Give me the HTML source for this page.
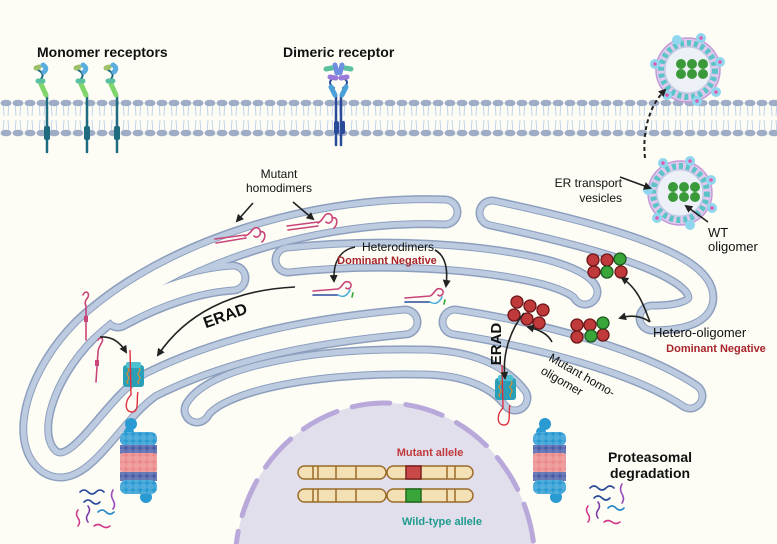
<!DOCTYPE html>
<html><head><meta charset="utf-8"><style>
html,body{margin:0;padding:0;background:#fdfdf6;width:777px;height:544px;overflow:hidden;}
svg{display:block;font-family:"Liberation Sans",sans-serif;overflow:hidden;}
</style></head><body>
<svg width="777" height="544" viewBox="0 0 777 544" xmlns="http://www.w3.org/2000/svg">
<defs>
<pattern id="mem" x="0" y="98" width="12" height="40" patternUnits="userSpaceOnUse">
<path d="M3,5 L4,18 M9,5 L8,18 M3,35 L4,22 M9,35 L8,22" stroke="#c3d3ec" stroke-width="1" fill="none"/>
<ellipse cx="6" cy="5" rx="5.5" ry="3.3" fill="#9eacc6"/>
<ellipse cx="6" cy="35" rx="5.5" ry="3.3" fill="#9eacc6"/>
</pattern>
<pattern id="dots" x="0" y="0" width="7" height="7" patternUnits="userSpaceOnUse">
<circle cx="3.5" cy="3.5" r="3.3" fill="#fff" fill-opacity="0.18"/>
</pattern>
<marker id="ah" markerWidth="8" markerHeight="8" refX="6" refY="4" orient="auto" markerUnits="userSpaceOnUse">
<path d="M0,0 L8,4 L0,8 Z" fill="#222"/>
</marker>
<clipPath id="clip"><rect x="0" y="0" width="777" height="544"/></clipPath>
</defs>
<g clip-path="url(#clip)">

<rect x="0" y="98" width="777" height="40" fill="url(#mem)"/>

<g fill="none" stroke-linecap="round" stroke-linejoin="round">
<g stroke="#8d9fbd" stroke-width="33">
<path id="cA" d="M445,212 C320,207 170,250 85,330 C40,375 20,440 50,462 C80,480 110,412 150,385 C230,345 320,330 405,322"/>
<path id="cC" d="M118,315 C160,292 200,280 233,278"/>
<path id="cB" d="M288,260 C380,250 480,256 545,272 C570,279 582,286 585,292"/>
<path id="cE" d="M492,213 C600,236 690,262 700,292 C706,312 680,318 652,318"/>
<path id="cF" d="M455,322 C540,335 640,362 690,396"/>
<path id="cG" d="M197,410 C215,380 310,360 420,362 C470,362 500,378 515,398"/>
</g>
<g stroke="#bccbe0" stroke-width="30">
<use href="#cA"/><use href="#cC"/><use href="#cB"/><use href="#cE"/><use href="#cF"/><use href="#cG"/>
</g>
<g stroke="#8d9fbd" stroke-width="19">
<use href="#cA"/><use href="#cC"/><use href="#cB"/><use href="#cE"/><use href="#cF"/><use href="#cG"/>
</g>
<g stroke="#fdfdf6" stroke-width="17">
<use href="#cA"/><use href="#cC"/><use href="#cB"/><use href="#cE"/><use href="#cF"/><use href="#cG"/>
</g>
</g>

<ellipse cx="385" cy="565" rx="150" ry="162" fill="#e2dfed"/>
<ellipse cx="385" cy="565" rx="150" ry="162" fill="none" stroke="#b9a8da" stroke-width="5" stroke-linecap="round" stroke-dasharray="38 16"/>

<g stroke="#9a6a2a" stroke-width="1.5" fill="#f3e0b5">
<rect x="298" y="466" width="88" height="13" rx="6.5"/>
<rect x="387" y="466" width="86" height="13" rx="6.5"/>
<rect x="298" y="489" width="88" height="13" rx="6.5"/>
<rect x="387" y="489" width="86" height="13" rx="6.5"/>
<path d="M313,466 V479 M318,466 V479 M336,466 V479 M356,466 V479 M447,466 V479 M455,466 V479 M313,489 V502 M318,489 V502 M336,489 V502 M356,489 V502 M447,489 V502 M455,489 V502" fill="none"/>
</g>
<rect x="406" y="466" width="15" height="13" fill="#c94848" stroke="#7a2020" stroke-width="1.5"/>
<rect x="406" y="489" width="15" height="13" fill="#3aa63a" stroke="#1f6a1f" stroke-width="1.5"/>
<text x="430" y="456" font-size="11" font-weight="bold" fill="#c0393b" text-anchor="middle">Mutant allele</text>
<text x="442" y="525" font-size="11" font-weight="bold" fill="#1f9a8e" text-anchor="middle">Wild-type allele</text>

<!-- receptors -->
<g fill="none" stroke-linecap="round">
<g stroke="#1f6b80" stroke-width="2.5">
<path d="M47,96 V152 M87,96 V152 M117,96 V152"/>
<path d="M38,70 Q46,74 40,80" stroke-width="2"/><path d="M78,70 Q86,74 80,80" stroke-width="2"/><path d="M108,70 Q116,74 110,80" stroke-width="2"/>
</g>
<g fill="#1f6b80"><rect x="44" y="126" width="6" height="14" rx="2"/><rect x="84" y="126" width="6" height="14" rx="2"/><rect x="114" y="126" width="6" height="14" rx="2"/></g>
<g stroke-width="5">
<path d="M41,84 L46,95" stroke="#7fd46a"/><path d="M81,84 L86,95" stroke="#7fd46a"/><path d="M111,84 L116,95" stroke="#7fd46a"/>
<path d="M38,81 L43,81" stroke="#58c0a0"/><path d="M78,81 L83,81" stroke="#58c0a0"/><path d="M108,81 L113,81" stroke="#58c0a0"/>
<path d="M36,68 L39,67" stroke="#9fc068"/><path d="M76,68 L79,67" stroke="#9fc068"/><path d="M106,68 L109,67" stroke="#9fc068"/>
<path d="M43,65 Q48,68 44,72" stroke="#5aaee0"/><path d="M83,65 Q88,68 84,72" stroke="#5aaee0"/><path d="M113,65 Q118,68 114,72" stroke="#5aaee0"/>
</g>
<g stroke="#2a4a9a" stroke-width="2.5"><path d="M336,95 V145 M341,95 V145"/>
<path d="M334,78 Q326,82 334,88 M343,78 Q351,82 343,88" stroke-width="2"/></g>
<g fill="#2a4a9a"><rect x="334" y="121" width="5" height="13" rx="2"/><rect x="340" y="121" width="5" height="13" rx="2"/></g>
<g stroke-width="5">
<path d="M331,87 L335,95" stroke="#4aa0d8"/><path d="M346,87 L342,95" stroke="#4aa0d8"/>
<path d="M330,77 L336,78" stroke="#9a7ad8"/><path d="M347,77 L341,78" stroke="#9a7ad8"/>
<path d="M326,69 L332,68" stroke="#5ac0a0"/><path d="M351,69 L345,68" stroke="#5ac0a0"/>
<path d="M335,65 L337,73 M342,65 L340,73" stroke="#6f8fe0"/>
</g>
</g>

<!-- vesicles -->
<g>
<circle cx="688" cy="70" r="32" fill="#e0c8ec" stroke="#c49ad8" stroke-width="1.5"/>
<circle cx="688" cy="70" r="27" fill="none" stroke="#5cc4c8" stroke-width="6" stroke-dasharray="4 3"/>
<circle cx="688" cy="70" r="23" fill="#edf1f7" stroke="#b8c8e0"/>
<g fill="#8fd6ee"><circle cx="655" cy="64" r="5"/><circle cx="701" cy="38" r="5"/><circle cx="720" cy="62" r="5"/><circle cx="716" cy="92" r="5"/><circle cx="697" cy="101" r="5"/><circle cx="667" cy="95" r="5"/><circle cx="677" cy="40" r="5"/></g>
<g fill="#e05ab0"><circle cx="655" cy="64" r="1.8"/><circle cx="701" cy="38" r="1.8"/><circle cx="720" cy="62" r="1.8"/><circle cx="716" cy="92" r="1.8"/><circle cx="697" cy="101" r="1.8"/><circle cx="667" cy="95" r="1.8"/></g>
<g fill="#3a9a3a"><circle cx="681" cy="64" r="5"/><circle cx="692" cy="64" r="5"/><circle cx="703" cy="64" r="5"/><circle cx="681" cy="74" r="5"/><circle cx="692" cy="74" r="5"/><circle cx="703" cy="74" r="5"/></g>

<circle cx="680" cy="193" r="32" fill="#e0c8ec" stroke="#c49ad8" stroke-width="1.5"/>
<circle cx="680" cy="193" r="27" fill="none" stroke="#5cc4c8" stroke-width="6" stroke-dasharray="4 3"/>
<circle cx="680" cy="193" r="23" fill="#edf1f7" stroke="#b8c8e0"/>
<g fill="#8fd6ee"><circle cx="648" cy="190" r="5"/><circle cx="663" cy="163" r="5"/><circle cx="690" cy="161" r="5"/><circle cx="711" cy="180" r="5"/><circle cx="712" cy="208" r="5"/><circle cx="690" cy="225" r="5"/><circle cx="657" cy="218" r="5"/></g>
<g fill="#e05ab0"><circle cx="663" cy="163" r="1.8"/><circle cx="690" cy="161" r="1.8"/><circle cx="711" cy="180" r="1.8"/><circle cx="712" cy="208" r="1.8"/><circle cx="657" cy="218" r="1.8"/></g>
<g fill="#3a9a3a"><circle cx="673" cy="187" r="5"/><circle cx="684" cy="187" r="5"/><circle cx="695" cy="187" r="5"/><circle cx="673" cy="197" r="5"/><circle cx="684" cy="197" r="5"/><circle cx="695" cy="197" r="5"/></g>
</g>
<path d="M645,158 C642,130 650,105 665,90" fill="none" stroke="#222" stroke-width="2" stroke-dasharray="4 3" marker-end="url(#ah)"/>

<!-- oligomers -->
<g stroke-width="1.3">
<g fill="#c0393b" stroke="#6e1618">
<circle cx="593" cy="260" r="6"/><circle cx="607" cy="260" r="6"/><circle cx="594" cy="272" r="6"/><circle cx="621" cy="272" r="6"/>
<circle cx="577" cy="325" r="6"/><circle cx="590" cy="325" r="6"/><circle cx="577" cy="337" r="6"/><circle cx="603" cy="335" r="6"/>
<circle cx="517" cy="302" r="6"/><circle cx="530" cy="306" r="6"/><circle cx="543" cy="310" r="6"/><circle cx="514" cy="315" r="6"/><circle cx="527" cy="319" r="6"/><circle cx="539" cy="323" r="6"/>
</g>
<g fill="#3aa63a" stroke="#1f5a1f">
<circle cx="620" cy="259" r="6"/><circle cx="607" cy="272" r="6"/>
<circle cx="603" cy="323" r="6"/><circle cx="591" cy="336" r="6"/>
</g>
</g>

<g fill="none" stroke-width="1.6" stroke-linecap="round">
<g stroke="#c9457a">
<path d="M215,239 L245,235 M216,243 L246,238 M245,236 C252,234 252,226 258,228 C264,232 258,240 254,236 M260,232 C266,230 266,238 262,242"/>
<path d="M287,226 L318,222 M288,230 L318,226 M318,223 C324,220 324,212 330,214 C336,218 330,226 326,222 M332,218 C338,216 338,224 334,228"/>
<path d="M313,291 L338,289 C343,287 343,280 349,282 C354,285 349,291 346,288"/>
<path d="M405,298 L430,296 C435,294 435,287 441,289 C446,292 441,298 438,295"/>
</g>
<g stroke="#2a4a9a"><path d="M313,295 L338,295 M405,302 L430,302"/></g>
<g stroke="#4ab0d8"><path d="M338,295 C343,298 347,296 350,290 M430,302 C435,305 439,303 442,297"/></g>
<g stroke="#3aa63a"><path d="M353,293 L352,297 M445,300 L444,304"/></g>
<g stroke="#c9457a"><path d="M83,295 C85,290 90,292 88,297 C86,300 84,302 86,306 L86,340"/><path d="M98,340 C100,336 104,338 102,342 C100,346 98,348 98,352 L96,382"/></g>
</g>
<rect x="84" y="316" width="4" height="6" fill="#c9457a"/>
<rect x="95" y="360" width="4" height="6" fill="#c9457a"/>

<g>
<rect x="123" y="365" width="21" height="22" rx="3" fill="#2aa0b8"/>
<rect x="126" y="362" width="15" height="6" rx="2" fill="#4fc0d0"/>
<path d="M130,350 L131,395 C125,400 124,412 132,412 C140,412 136,398 138,392" fill="none" stroke="#e03040" stroke-width="1.4"/>
<path d="M128,368 q2,2 0,4 q-2,2 0,4 q2,2 0,4 q-2,2 0,4 M139,368 q2,2 0,4 q-2,2 0,4 q2,2 0,4 q-2,2 0,4" fill="none" stroke="#f08a20" stroke-width="1"/>
<rect x="495" y="378" width="21" height="22" rx="3" fill="#2aa0b8"/>
<rect x="498" y="375" width="15" height="6" rx="2" fill="#4fc0d0"/>
<path d="M502,365 L503,408 C497,413 496,425 504,425 C512,425 508,411 510,405" fill="none" stroke="#e03040" stroke-width="1.4"/>
<path d="M500,381 q2,2 0,4 q-2,2 0,4 q2,2 0,4 q-2,2 0,4 M511,381 q2,2 0,4 q-2,2 0,4 q2,2 0,4 q-2,2 0,4" fill="none" stroke="#f08a20" stroke-width="1"/>
</g>

<g>
<circle cx="131" cy="424" r="6" fill="#2a9ad2"/><circle cx="129" cy="432" r="5" fill="#2a9ad2"/>
<rect x="120" y="432" width="37" height="14" rx="6" fill="#2a9ad2"/>
<rect x="120" y="445" width="37" height="9" fill="#4a5ea8"/>
<rect x="120" y="453" width="37" height="20" rx="3" fill="#ec8a8a"/>
<rect x="120" y="472" width="37" height="9" fill="#4a5ea8"/>
<rect x="120" y="480" width="37" height="14" rx="6" fill="#2a9ad2"/>
<circle cx="146" cy="497" r="6" fill="#2a9ad2"/>
<rect x="120" y="432" width="37" height="62" fill="url(#dots)"/>

<circle cx="545" cy="424" r="6" fill="#2a9ad2"/><circle cx="541" cy="432" r="5" fill="#2a9ad2"/>
<rect x="533" y="432" width="33" height="14" rx="6" fill="#2a9ad2"/>
<rect x="533" y="445" width="33" height="9" fill="#4a5ea8"/>
<rect x="533" y="453" width="33" height="20" rx="3" fill="#ec8a8a"/>
<rect x="533" y="472" width="33" height="9" fill="#4a5ea8"/>
<rect x="533" y="480" width="33" height="14" rx="6" fill="#2a9ad2"/>
<circle cx="556" cy="497" r="6" fill="#2a9ad2"/>
<rect x="533" y="432" width="33" height="62" fill="url(#dots)"/>
</g>

<g fill="none" stroke-width="1.6" stroke-linecap="round">
<path d="M80,492 q4,-4 8,0 q4,4 8,0 q4,-4 8,0" stroke="#2a4a9a"/>
<path d="M84,502 q4,-4 8,0 q4,4 8,0" stroke="#2a4a9a"/>
<path d="M113,490 q-3,5 0,10 q3,5 0,9" stroke="#9a4ab8"/>
<path d="M78,510 q-3,4 0,8 q3,4 0,8" stroke="#d03a8a"/>
<path d="M88,506 q3,4 0,8 q-3,4 0,8" stroke="#7a3aa8"/>
<path d="M98,512 q4,-4 8,0 q4,4 8,0" stroke="#2a8ac8"/>
<path d="M94,526 q4,-3 8,0 q4,3 8,0" stroke="#d03a8a"/>
<path d="M590,488 q4,-4 8,0 q4,4 8,0 q4,-4 8,0" stroke="#2a4a9a"/>
<path d="M594,498 q4,-4 8,0 q4,4 8,0" stroke="#2a4a9a"/>
<path d="M622,484 q-3,5 0,10 q3,5 0,9" stroke="#9a4ab8"/>
<path d="M588,506 q-3,4 0,8 q3,4 0,8" stroke="#d03a8a"/>
<path d="M598,502 q3,4 0,8 q-3,4 0,8" stroke="#7a3aa8"/>
<path d="M608,508 q4,-4 8,0 q4,4 8,0" stroke="#2a8ac8"/>
<path d="M604,522 q4,-3 8,0 q4,3 8,0" stroke="#d03a8a"/>
</g>

<g fill="none" stroke="#222" stroke-width="1.6">
<path d="M253,203 L237,221" marker-end="url(#ah)"/>
<path d="M293,202 L313,219" marker-end="url(#ah)"/>
<path d="M355,247 C340,250 333,262 334,281" marker-end="url(#ah)"/>
<path d="M435,250 C446,256 448,270 446,286" marker-end="url(#ah)"/>
<path d="M295,287 C230,290 185,315 158,355" marker-end="url(#ah)"/>
<path d="M100,337 C112,336 120,342 126,352" marker-end="url(#ah)"/>
<path d="M650,322 C645,310 640,290 622,278" marker-end="url(#ah)"/>
<path d="M650,322 C640,315 630,315 620,318" marker-end="url(#ah)"/>
<path d="M552,342 C548,334 540,330 528,327" marker-end="url(#ah)"/>
<path d="M708,222 L686,206" marker-end="url(#ah)"/>
<path d="M620,177 L650,188" marker-end="url(#ah)"/>
<path d="M524,313 C510,330 502,355 505,378" marker-end="url(#ah)"/>
</g>

<g fill="#111" font-weight="bold">
<text x="37" y="57" font-size="14">Monomer receptors</text>
<text x="283" y="57" font-size="14">Dimeric receptor</text>
<text x="279" y="178" font-size="12" text-anchor="middle" font-weight="normal">Mutant</text>
<text x="279" y="192" font-size="12" text-anchor="middle" font-weight="normal">homodimers</text>
<text x="398" y="251" font-size="12" text-anchor="middle" font-weight="normal">Heterodimers</text>
<text x="225" y="321" font-size="16" text-anchor="middle" transform="rotate(-20 225 315)">ERAD</text>
<text x="501" y="344" font-size="15" text-anchor="middle" transform="rotate(-90 501 344)">ERAD</text>
<text x="548" y="360" font-size="12" font-weight="normal" transform="rotate(30 548 360)">Mutant homo-</text>
<text x="540" y="373" font-size="12" font-weight="normal" transform="rotate(30 540 373)">oligomer</text>
<text x="653" y="337" font-size="13" font-weight="normal">Hetero-oligomer</text>
<text x="708" y="237" font-size="13" font-weight="normal">WT</text>
<text x="708" y="251" font-size="13" font-weight="normal">oligomer</text>
<text x="622" y="187" font-size="12" text-anchor="end" font-weight="normal">ER transport</text>
<text x="622" y="202" font-size="12" text-anchor="end" font-weight="normal">vesicles</text>
<text x="650" y="462" font-size="14" text-anchor="middle">Proteasomal</text>
<text x="650" y="478" font-size="14" text-anchor="middle">degradation</text>
</g>
<g fill="#a8242a" font-weight="bold" font-size="11">
<text x="387" y="264" text-anchor="middle">Dominant  Negative</text>
<text x="716" y="352" text-anchor="middle">Dominant  Negative</text>
</g>
</g>
</svg>
</body></html>
